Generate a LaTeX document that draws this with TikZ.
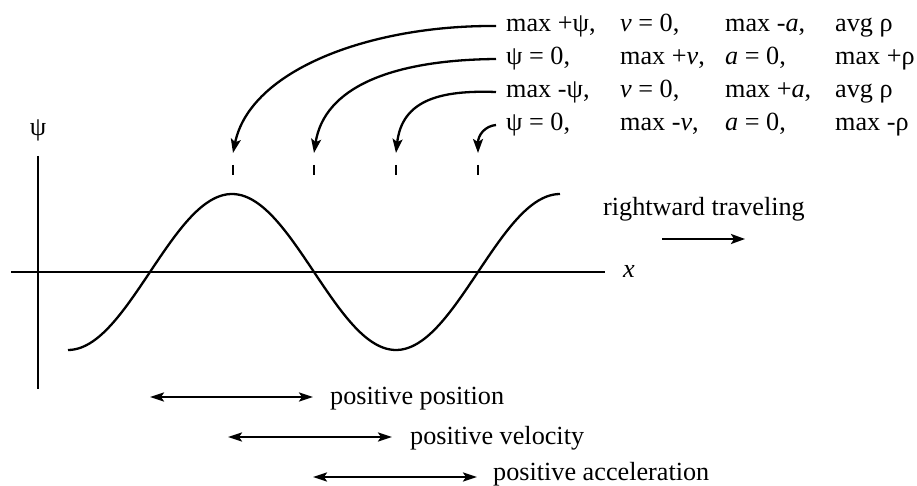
\documentclass[tikz,border=0pt]{standalone}
\usepackage{fontspec}
\setmainfont{Liberation Serif}
\usetikzlibrary{arrows.meta}
\newcommand\wcols[4]{\makebox[114bp][l]{#1}\makebox[105bp][l]{#2}\makebox[110bp][l]{#3}#4}
\begin{document}
\begin{tikzpicture}[x=1bp,y=-1bp,
  line/.style={line width=2.3bp},
  tip/.style={-{Stealth[length=14bp,width=10bp,inset=3bp]}},
  dtip/.style={{Stealth[length=14bp,width=9bp,inset=3bp]}-{Stealth[length=14bp,width=9bp,inset=3bp]}},
  lbl/.style={font=\fontsize{26.3}{31}\selectfont, inner sep=0pt},
  row/.style={lbl, anchor=west, inner xsep=10bp, inner ysep=0pt, text height=18bp, text depth=7bp}]
\useasboundingbox (0,0) rectangle (917,486);
% axes
\coordinate (ya) at (38,156);
\coordinate (yb) at (38,389);
\coordinate (xa) at (11,272);
\coordinate (xb) at (605,272);
\draw[line] (ya) -- (yb);
\draw[line] (xa) -- (xb);
\node[lbl] (psi) at (38,130) {ψ};
\node[lbl,anchor=base west] (xl) at (623,278) {\textit{x}};
% wave
\draw[line] plot[domain=68:560,samples=140,smooth] (\x,{272-78*sin(1.097561*(\x-150))});
% ticks
\foreach \i/\xx in {1/233,2/314,3/396,4/478}{
  \draw[line] (\xx,165) -- (\xx,175);
  \coordinate (t\i) at (\xx,153);
}
% rows of text
\node[row] (r1) at (496,26) {\wcols{max +ψ,}{\textit{v} = 0,}{max -\textit{a},}{avg ρ}};
\node[row] (r2) at (496,59) {\wcols{ψ = 0,}{max +\textit{v},}{\textit{a} = 0,}{max +ρ}};
\node[row] (r3) at (496,92) {\wcols{max -ψ,}{\textit{v} = 0,}{max +\textit{a},}{avg ρ}};
\node[row] (r4) at (496,125) {\wcols{ψ = 0,}{max -\textit{v},}{\textit{a} = 0,}{max -ρ}};
% curved arrows
\draw[line,tip] (r1.west) .. controls (370,25) and (250,70) .. (t1);
\draw[line,tip] (r2.west) .. controls (390,60) and (324,88) .. (t2);
\draw[line,tip] (r3.west) .. controls (440,90) and (402,100) .. (t3);
\draw[line,tip] (r4.west) .. controls (485,126) and (478,135) .. (t4);
% rightward traveling
\node[lbl,anchor=base west] (rt) at (603,216) {rightward traveling};
\coordinate (ra) at (662,239);
\coordinate (rb) at (745,239);
\draw[line,tip] (ra) -- (rb);
% bottom arrows
\node[lbl,anchor=base west] (pp) at (330,404) {positive position};
\node[lbl,anchor=base west] (pv) at (410,444) {positive velocity};
\node[lbl,anchor=base west] (pa) at (493,480) {positive acceleration};
\coordinate (p1a) at (150,397); \coordinate (p1b) at (313,397);
\coordinate (p2a) at (228,437); \coordinate (p2b) at (392,437);
\coordinate (p3a) at (313,477); \coordinate (p3b) at (477,477);
\draw[line,dtip] (p1a) -- (p1b);
\draw[line,dtip] (p2a) -- (p2b);
\draw[line,dtip] (p3a) -- (p3b);
\end{tikzpicture}
\end{document}
